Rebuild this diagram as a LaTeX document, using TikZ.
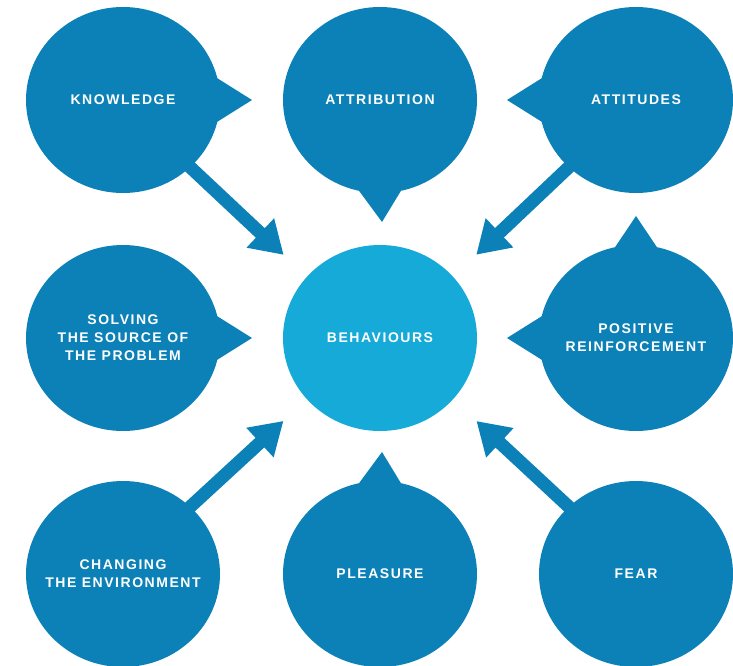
\documentclass[tikz,border=0pt]{standalone}
\usepackage{fontspec}
\usepackage{xcolor}
\usetikzlibrary{arrows.meta,shapes.geometric,backgrounds}
\newfontfamily\bubblefont[LetterSpace=11]{Liberation Sans}
\definecolor{bubbleblue}{RGB}{11,129,183}
\definecolor{centreblue}{RGB}{22,170,216}

\begin{document}
\begin{tikzpicture}[x=1pt,y=-1pt,
  bubble/.style={ellipse, fill=bubbleblue, minimum width=194pt, minimum height=186pt,
    inner sep=0pt, outer sep=0pt},
  bubbletext/.style={text=white, align=center, inner sep=0pt,
    font=\bubblefont\bfseries\fontsize{14}{18}\selectfont},
  pointer/.style={fill=bubbleblue},
  bigarrow/.style={draw=bubbleblue, line width=13pt,
    -{Triangle[length=32pt,width=38pt]}, shorten >=32pt, shorten <=-2pt}]

\useasboundingbox (0,0) rectangle (733,666);

% Outer bubbles
\node[bubble, label={[bubbletext]center:KNOWLEDGE}] (know) at (123,100) {};
\node[bubble, label={[bubbletext]center:ATTRIBUTION}] (attr) at (380,100) {};
\node[bubble, label={[bubbletext]center:ATTITUDES}] (atti) at (636,100) {};
\node[bubble, label={[bubbletext]center:SOLVING\\THE SOURCE OF\\THE PROBLEM}] (solv) at (123,338) {};
\node[bubble, label={[bubbletext]center:POSITIVE\\REINFORCEMENT}] (posi) at (636,338) {};
\node[bubble, label={[bubbletext]center:CHANGING\\THE ENVIRONMENT}] (chng) at (123,574) {};
\node[bubble, label={[bubbletext]center:PLEASURE}] (plea) at (380,574) {};
\node[bubble, label={[bubbletext]center:FEAR}] (fear) at (636,574) {};

% Central circle
\node[bubble, fill=centreblue, label={[bubbletext]center:BEHAVIOURS}] (beh) at (380,338) {};

% Speech pointers, behind the bubbles
\begin{scope}[on background layer]
\fill[pointer] (know.13) -- ([xshift=32pt]know.east) -- (know.-13) -- (know.center) -- cycle;
\fill[pointer] (attr.-77) -- ([xshift=2pt,yshift=-29pt]attr.south) -- (attr.-103) -- (attr.center) -- cycle;
\fill[pointer] (atti.167) -- ([xshift=-32pt]atti.west) -- (atti.193) -- (atti.center) -- cycle;
\fill[pointer] (solv.13) -- ([xshift=32pt]solv.east) -- (solv.-13) -- (solv.center) -- cycle;
\fill[pointer] (posi.167) -- ([xshift=-32pt]posi.west) -- (posi.193) -- (posi.center) -- cycle;
\fill[pointer] (posi.77) -- ([yshift=29pt]posi.north) -- (posi.103) -- (posi.center) -- cycle;
\fill[pointer] (plea.77) -- ([xshift=2pt,yshift=29pt]plea.north) -- (plea.103) -- (plea.center) -- cycle;
\end{scope}

% Arrows into the centre
\draw[bigarrow] (know.-45) -- (beh.140);
\draw[bigarrow] (atti.-135) -- (beh.40);
\draw[bigarrow] (chng.45) -- (beh.-140);
\draw[bigarrow] (fear.135) -- (beh.-40);

\end{tikzpicture}
\end{document}
